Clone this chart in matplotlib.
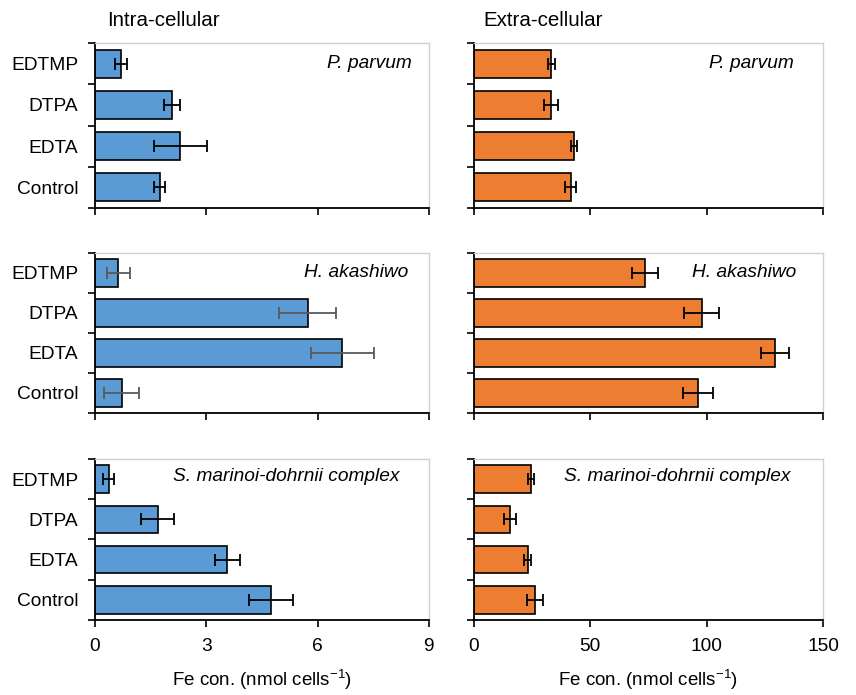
import numpy as np
import matplotlib
matplotlib.use('Agg')
import matplotlib.pyplot as plt

plt.rcParams['font.family'] = ['Liberation Sans', 'DejaVu Sans']
plt.rcParams['mathtext.default'] = 'regular'
plt.rcParams['font.size'] = 13.8

## datos
tratamientos = ['Control', 'EDTA', 'DTPA', 'EDTMP']   # de abajo hacia arriba
especies = ['P. parvum', 'H. akashiwo', 'S. marinoi-dohrnii complex']

# intra-celular (nmol cells-1)
intra_pp = [1.74, 2.30, 2.07, 0.70]
intra_pp_err = [0.15, 0.71, 0.21, 0.16]
intra_ha = [0.72, 6.67, 5.73, 0.63]
intra_ha_err = [0.47, 0.84, 0.76, 0.32]
intra_sm = [4.74, 3.57, 1.69, 0.37]
intra_sm_err = [0.59, 0.34, 0.44, 0.15]

# extra-celular
extra_pp = [41.5, 43.0, 33.2, 33.3]
extra_pp_err = [2.4, 1.2, 3.1, 1.6]
extra_ha = [96.3, 129.5, 97.9, 73.7]
extra_ha_err = [6.5, 6.0, 7.5, 5.6]
extra_sm = [26.2, 23.1, 15.5, 24.6]
extra_sm_err = [3.4, 1.5, 2.7, 1.2]

intra = [intra_pp, intra_ha, intra_sm]
intra_err = [intra_pp_err, intra_ha_err, intra_sm_err]
extra = [extra_pp, extra_ha, extra_sm]
extra_err = [extra_pp_err, extra_ha_err, extra_sm_err]

azul = '#5B9BD5'
naranja = '#ED7D31'
gris_marco = '#D0D0D0'

fig = plt.figure(figsize=(8.56, 6.95), dpi=100)

filas = [(0.7007, 0.2374), (0.4058, 0.2302), (0.1079, 0.2317)]
col_izq = (0.111, 0.390)
col_der = (0.5537, 0.4077)
pos_especie_izq = [(0.949, 0.873), (0.937, 0.88), (0.913, 0.89)]
pos_especie_der = [(0.917, 0.873), (0.923, 0.88), (0.908, 0.89)]
y = np.arange(len(tratamientos))


def panel(rect, valores, errores, color, xmax, xticks, nombre, pos,
          etiquetas_y, etiquetas_x, color_err='k'):
    ax = fig.add_axes(rect)
    ax.barh(y, valores, height=0.68, color=color, edgecolor='k', linewidth=1.2,
            zorder=2)
    ax.errorbar(valores, y, xerr=errores, fmt='none', ecolor=color_err,
                elinewidth=1.3, capsize=4, capthick=1.3, zorder=3)
    ax.set_xlim(0, xmax)
    ax.set_ylim(-0.5, len(tratamientos) - 0.5)
    ax.set_xticks(xticks)
    ax.set_yticks(np.arange(-0.5, len(tratamientos), 1.0))
    ax.set_yticklabels([])
    ax.set_yticks(y, minor=True)
    if etiquetas_y:
        ax.set_yticklabels(tratamientos, minor=True)
    ax.tick_params(axis='y', which='minor', length=0, pad=12)
    ax.tick_params(axis='y', which='major', length=5, width=1.2)
    ax.tick_params(axis='x', length=5, width=1.2, pad=8)
    if not etiquetas_x:
        ax.set_xticklabels([])
    for lado in ['left', 'bottom']:
        ax.spines[lado].set_linewidth(1.3)
        ax.spines[lado].set_color('k')
    for lado in ['top', 'right']:
        ax.spines[lado].set_linewidth(1.0)
        ax.spines[lado].set_color(gris_marco)
    ax.text(pos[0], pos[1], nombre, transform=ax.transAxes, ha='right',
            va='center', style='italic', fontsize=13.8)
    return ax


for i in range(3):
    abajo, alto = filas[i]
    ultimo = (i == 2)
    ce = '#595959' if i == 1 else 'k'
    ax1 = panel([col_izq[0], abajo, col_izq[1], alto], intra[i], intra_err[i],
                azul, 9, [0, 3, 6, 9], especies[i], pos_especie_izq[i],
                True, ultimo, color_err=ce)
    ax2 = panel([col_der[0], abajo, col_der[1], alto], extra[i], extra_err[i],
                naranja, 150, [0, 50, 100, 150], especies[i], pos_especie_der[i],
                False, ultimo)
    if ultimo:
        ax1.set_xlabel('Fe con. (nmol cells$^{-1}$)', labelpad=9, fontsize=13.5)
        ax2.set_xlabel('Fe con. (nmol cells$^{-1}$)', labelpad=9, fontsize=13.5)

fig.text(107 / 856, 1 - 20 / 695, 'Intra-cellular', ha='left', va='center',
         fontsize=14.8)
fig.text(483 / 856, 1 - 20 / 695, 'Extra-cellular', ha='left', va='center',
         fontsize=14.8)

fig.savefig('out.png', dpi=100)
